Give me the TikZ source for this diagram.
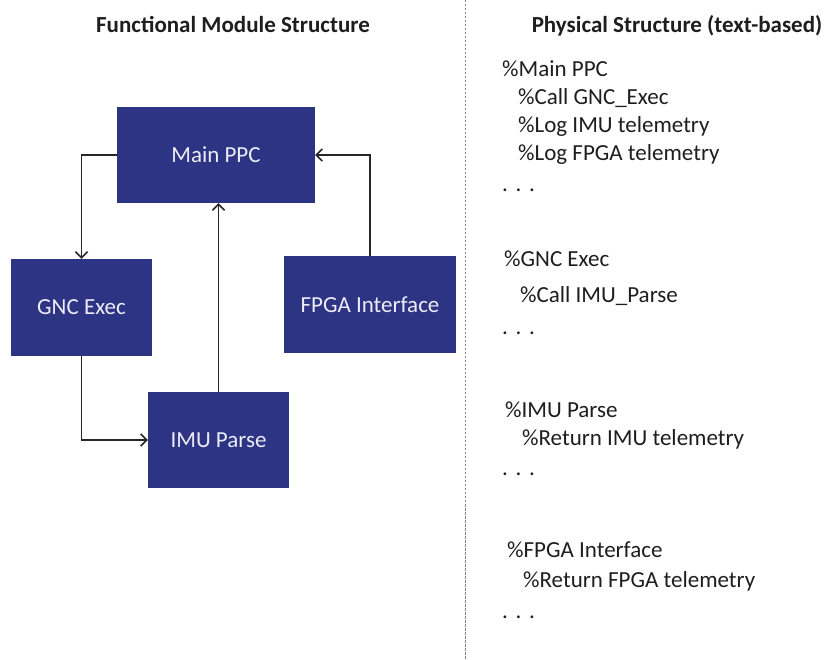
\documentclass[tikz,border=0pt]{standalone}
\usepackage{fontspec}
\setmainfont{Carlito}
\usetikzlibrary{arrows.meta}
\definecolor{boxblue}{RGB}{46,52,132}
\definecolor{boxtext}{RGB}{236,236,246}
\definecolor{divgray}{RGB}{130,130,130}
\definecolor{codeink}{RGB}{30,30,30}
\begin{document}
\begin{tikzpicture}[x=1pt, y=-1pt,
  module/.style={fill=boxblue, text=boxtext, inner sep=0pt,
    font=\fontsize{23}{27}\selectfont},
  flow/.style={draw=black!85, line width=1.5pt,
    -{Straight Barb[length=6pt, width=12pt, line width=1.5pt]}},
  heading/.style={anchor=base, inner sep=0pt, text=codeink,
    font=\bfseries\fontsize{23}{27}\selectfont},
  code/.style={anchor=base west, inner sep=0pt, text=codeink,
    font=\fontsize{23}{27}\selectfont},
  divider/.style={draw=divgray, line width=0.8pt, dash pattern=on 2.5pt off 1.5pt}]
\useasboundingbox (0,0) rectangle (831,660);

% headings
\node[heading] (lefttitle)  at (233,33) {Functional Module Structure};
\node[heading] (righttitle) at (677,33) {Physical Structure (text-based)};

% dividing line
\coordinate (divtop) at (465,0);
\coordinate (divbot) at (465,660);
\draw[divider] (divtop) -- (divbot);

% functional modules
\node[module, minimum width=198pt, minimum height=96pt] (ppc)  at (216,155)   {Main PPC};
\node[module, minimum width=141pt, minimum height=97pt] (gnc)  at (81.5,307.5) {GNC Exec};
\node[module, minimum width=172pt, minimum height=97pt] (fpga) at (370,304.5) {FPGA Interface};
\node[module, minimum width=141pt, minimum height=96pt] (imu)  at (218.5,440) {IMU Parse};

% call / return flow
\draw[flow] (ppc.west) -| (gnc.north);
\draw[flow] (gnc.south) |- (imu.west);
\draw[flow] (imu.north) -- (imu.north |- ppc.south);
\draw[flow] (fpga.north) |- (ppc.east);

% text-based structure
\node[code] (m0) at (502,77)  {\%Main PPC};
\node[code] (m1) at (518,105) {\%Call GNC\_Exec};
\node[code] (m2) at (518,133) {\%Log IMU telemetry};
\node[code] (m3) at (518,161) {\%Log FPGA telemetry};
\node[code] (m4) at (502,192) {.\,\,.\,\,.};

\node[code] (g0) at (504,267) {\%GNC Exec};
\node[code] (g1) at (520,303) {\%Call IMU\_Parse};
\node[code] (g2) at (502,335) {.\,\,.\,\,.};

\node[code] (i0) at (505,418) {\%IMU Parse};
\node[code] (i1) at (522,446) {\%Return IMU telemetry};
\node[code] (i2) at (502,476) {.\,\,.\,\,.};

\node[code] (f0) at (507,558) {\%FPGA Interface};
\node[code] (f1) at (523,587) {\%Return FPGA telemetry};
\node[code] (f2) at (502,618) {.\,\,.\,\,.};
\end{tikzpicture}
\end{document}
